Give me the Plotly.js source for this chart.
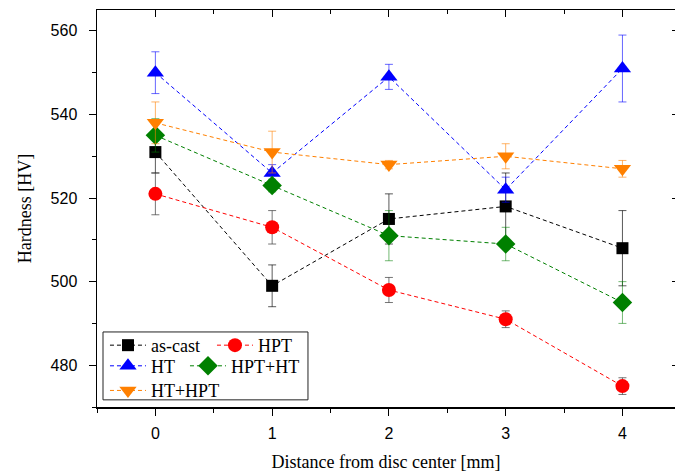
<!DOCTYPE html>
<html>
<head>
<meta charset="utf-8">
<script src="https://cdn.plot.ly/plotly-3.0.1.min.js"></script>
<style>
  html, body { margin: 0; padding: 0; overflow: hidden; background: #fff; }
  #chart { width: 675px; height: 472px; }
</style>
</head>
<body>
<div id="chart"></div>
<script>
// Distance from the disc center [mm]
const distance = [0, 1, 2, 3, 4];

// Hardness [HV] and standard deviations per condition
const asCast = [531, 499, 515, 518, 508];
const asCastErr = [5, 5, 6, 8, 9];
const hpt = [521, 513, 498, 491, 475];
const hptErr = [5, 4, 3, 2, 2];
const ht = [550, 526, 549, 522, 551];
const htErr = [5, 2, 3, 3, 8];
const hptHt = [535, 523, 511, 509, 495];
const hptHtErr = [4, 1.5, 6, 4, 5];
const htHpt = [538, 531, 528, 530, 527];
const htHptErr = [5, 5, 1, 3, 2];

const seriesNames = ['as-cast', 'HPT', 'HT', 'HPT+HT', 'HT+HPT'];

function series(name, y, err, color, errColor, symbol, size, legendId, entryWidth) {
  const t = {
    type: 'scatter', mode: 'lines+markers', name: name,
    x: distance, y: y,
    line: { color: color, width: 1, dash: '4px,3px' },
    marker: { color: color, symbol: symbol, size: size, line: { width: 0 } },
    error_y: { type: 'data', array: err, visible: true, color: errColor, thickness: 1, width: 4 },
    legend: legendId
  };
  if (entryWidth) t.legendwidth = entryWidth;
  return t;
}

const traces = [
  series(seriesNames[0], asCast, asCastErr, '#000000', 'rgba(0,0,0,0.65)', 'square', 12, 'legend', 56),
  series(seriesNames[1], hpt, hptErr, '#ff0000', 'rgba(60,60,60,0.7)', 'circle', 14, 'legend'),
  series(seriesNames[2], ht, htErr, '#0000ff', 'rgba(0,0,255,0.6)', 'triangle-up', 15, 'legend2', 29),
  series(seriesNames[3], hptHt, hptHtErr, '#008000', 'rgba(0,128,0,0.55)', 'diamond', 15, 'legend2'),
  series(seriesNames[4], htHpt, htHptErr, '#ff8000', 'rgba(255,128,0,0.6)', 'triangle-down', 15, 'legend3')
];

const serif = 'Liberation Serif, Times New Roman, serif';
const sans = 'Liberation Sans, Arial, sans-serif';

const legendBase = {
  orientation: 'h', xref: 'paper', yref: 'paper',
  xanchor: 'left', yanchor: 'middle',
  bgcolor: 'rgba(0,0,0,0)', borderwidth: 0,
  font: { family: serif, size: 18, color: '#000' },
  itemsizing: 'trace', itemwidth: 36, tracegroupgap: 0
};

const legendX = 0.0138;

const layout = {
  width: 675, height: 472,
  margin: { l: 97, r: 0, t: 10, b: 65 },
  paper_bgcolor: '#ffffff', plot_bgcolor: '#ffffff',
  showlegend: true,
  xaxis: {
    range: [-0.5, 4.45], tickvals: distance, ticktext: distance.map(String),
    ticks: 'outside', ticklen: 7, tickwidth: 1, tickcolor: '#000',
    minor: { dtick: 0.5, tick0: 0, ticks: 'outside', ticklen: 4, tickcolor: '#000' },
    showline: true, linecolor: '#000', linewidth: 1.5,
    showgrid: false, zeroline: false,
    ticklabelstandoff: 4,
    tickfont: { family: sans, size: 16, color: '#000' },
    title: { text: 'Distance from disc center [mm]', font: { family: serif, size: 18, color: '#000' }, standoff: 16 }
  },
  yaxis: {
    range: [470, 565], dtick: 20, tick0: 0,
    ticks: 'outside', ticklen: 7, tickwidth: 1, tickcolor: '#000',
    minor: { dtick: 10, tick0: 0, ticks: 'outside', ticklen: 4, tickcolor: '#000' },
    showline: true, linecolor: '#000', linewidth: 1.5,
    showgrid: false, zeroline: false,
    ticklabelstandoff: 8,
    tickfont: { family: sans, size: 16, color: '#000' },
    title: { text: 'Hardness [HV]', font: { family: serif, size: 18, color: '#000' }, standoff: 14 }
  },
  xaxis2: {
    overlaying: 'x', side: 'top', matches: 'x', range: [-0.5, 4.45],
    tickvals: distance, showticklabels: false,
    ticks: 'inside', ticklen: 7, tickcolor: '#000',
    minor: { dtick: 0.5, tick0: 0, ticks: 'inside', ticklen: 4, tickcolor: '#000' },
    showline: true, linecolor: '#000', linewidth: 1.5, showgrid: false, zeroline: false
  },
  yaxis2: {
    overlaying: 'y', side: 'right', matches: 'y', range: [470, 565],
    dtick: 20, tick0: 0, showticklabels: false,
    ticks: 'inside', ticklen: 3, tickcolor: '#000',
    showline: false, showgrid: false, zeroline: false
  },
  legend: Object.assign({}, legendBase, { x: legendX, y: 0.155 }),
  legend2: Object.assign({}, legendBase, { x: legendX, y: 0.103 }),
  legend3: Object.assign({}, legendBase, { x: legendX, y: 0.041 }),
  shapes: [{
    type: 'rect', xref: 'paper', yref: 'paper',
    x0: 0.0104, x1: 0.365, y0: 0.018, y1: 0.189,
    line: { color: '#222', width: 1 }, fillcolor: 'rgba(0,0,0,0)'
  }]
};

// invisible trace keeps the mirrored frame axes alive
traces.push({ type: 'scatter', x: [null], y: [null], xaxis: 'x2', yaxis: 'y2', showlegend: false, hoverinfo: 'skip' });

Plotly.newPlot('chart', traces, layout, { displayModeBar: false, staticPlot: true });
</script>
</body>
</html>
